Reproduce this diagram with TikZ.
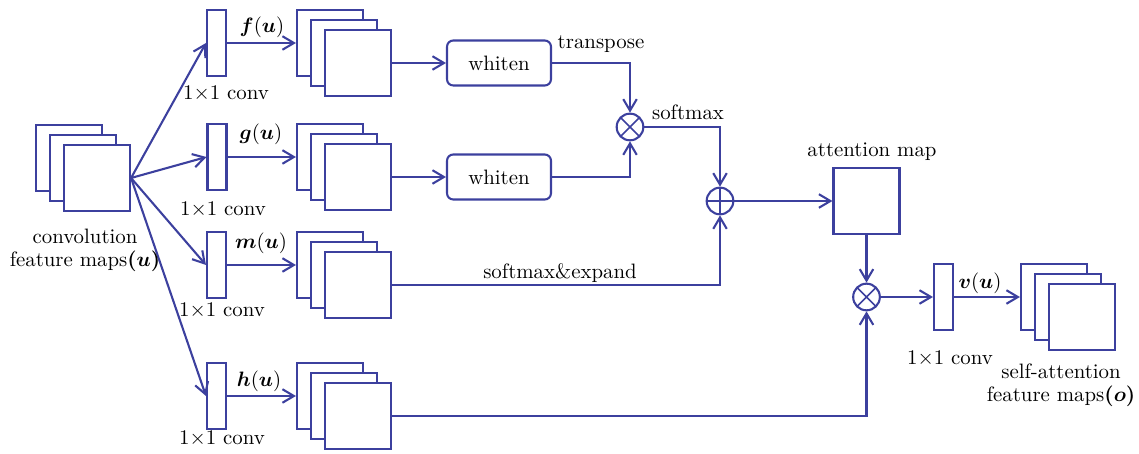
\documentclass[tikz,border=0pt]{standalone}
\usepackage{bm}
\usetikzlibrary{arrows.meta}
\definecolor{netblue}{RGB}{60,64,158}

\begin{document}
\begin{tikzpicture}[x=0.48pt,y=-0.48pt,
	fmap/.style={draw=netblue,fill=white,line width=1pt,minimum size=31.7pt,inner sep=0pt},
	conv/.style={draw=netblue,fill=white,line width=1pt,minimum width=9.1pt,minimum height=31.7pt,inner sep=0pt},
	whiten/.style={draw=netblue,line width=1pt,rounded corners=3pt,minimum width=49.9pt,minimum height=21.6pt},
	opcirc/.style={circle,draw=netblue,line width=1pt,minimum size=12.8pt,inner sep=0pt},
	mulop/.style={opcirc,path picture={\draw[netblue,line width=0.7pt] (path picture bounding box.north west)--(path picture bounding box.south east) (path picture bounding box.north east)--(path picture bounding box.south west);}},
	addop/.style={opcirc,path picture={\draw[netblue,line width=0.7pt] (path picture bounding box.north)--(path picture bounding box.south) (path picture bounding box.west)--(path picture bounding box.east);}},
	link/.style={draw=netblue,line width=1pt,-{Straight Barb[length=5.5pt,width=6.5pt]}}]
	\useasboundingbox (0,0) rectangle (1139,454);
	% feature map stacks
	\foreach \n/\x/\y in {in/69/158,f/330/43,g/330/157,m/330/265,h/330/396,out/1054/297} {
		\node[fmap] (\n1) at (\x,\y) {};
		\node[fmap] (\n2) at (\x+14,\y+10) {};
		\node[fmap] (\n3) at (\x+28,\y+20) {};
	}
	% 1x1 conv
	\foreach \n/\x/\y in {cf/216.5/43,cg/217/157,cm/216.5/265,ch/216.5/396,cv/943.5/297} {
		\node[conv] (\n) at (\x,\y) {};
	}
	\node[whiten] (wf) at (499,63) {whiten};
	\node[whiten] (wg) at (499,177) {whiten};
	\node[mulop] (mul1) at (630,127) {};
	\node[addop] (add) at (720,201) {};
	\node[fmap] (att) at (866.5,201) {};
	\node[mulop] (mul2) at (866.5,297) {};
	% connectors
	\foreach \n in {cf,cg,cm,ch}
		\draw[link] (in3.east) -- (\n.west);
	\foreach \n in {f,g,m,h}
		\draw[link] (c\n.east) -- (\n1.west);
	\draw[link] (f3.east) -- (wf.west);
	\draw[link] (g3.east) -- (wg.west);
	\draw[link] (wf.east) -| (mul1.north);
	\draw[link] (wg.east) -| (mul1.south);
	\draw[link] (mul1.east) -| (add.north);
	\draw[link] (m3.east) -| (add.south);
	\draw[link] (add.east) -- (att.west);
	\draw[link] (att.south) -- (mul2.north);
	\draw[link] (h3.east) -| (mul2.south);
	\draw[link] (mul2.east) -- (cv.west);
	\draw[link] (cv.east) -- (out1.west);
	% labels
	\node[align=center] (lin) at (85,250) {convolution\\[-1pt]feature maps$\bm{(u)}$};
	\node (lf) at (262,27) {$\bm{f}(\bm{u})$};
	\node (lg) at (261,134) {$\bm{g}(\bm{u})$};
	\node (lm) at (261,243) {$\bm{m}(\bm{u})$};
	\node (lh) at (259,381) {$\bm{h}(\bm{u})$};
	\node (lv) at (980,283) {$\bm{v}(\bm{u})$};
	\node (kf) at (226,93) {1$\times$1 conv};
	\node (kg) at (223,209) {1$\times$1 conv};
	\node (km) at (222,310) {1$\times$1 conv};
	\node (kh) at (222,438) {1$\times$1 conv};
	\node (kv) at (950,358) {1$\times$1 conv};
	\node (ltr) at (601,44) {transpose};
	\node (lsm) at (688,112) {softmax};
	\node (lse) at (560,273) {softmax\&expand};
	\node (latt) at (872,152) {attention map};
	\node[align=center] (lout) at (1061,385) {self-attention\\[-1pt]feature maps$\bm{(o)}$};
\end{tikzpicture}
\end{document}
